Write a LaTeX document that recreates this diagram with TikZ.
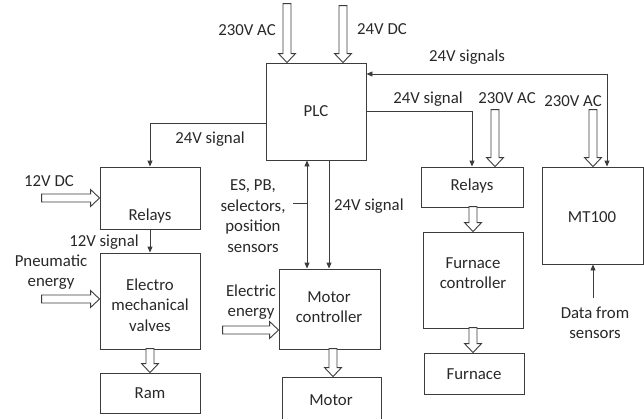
\documentclass[tikz,border=0pt]{standalone}
\usepackage{fontspec}
\setmainfont{Carlito}
\usetikzlibrary{calc,arrows.meta}
\definecolor{ln}{RGB}{60,60,60}
\definecolor{tx}{RGB}{40,40,40}
\tikzset{
  blk/.style={draw=ln, line width=0.9pt, minimum width=#1, inner sep=0pt},
  txt/.style={text=tx, align=center, inner sep=0pt, font=\fontsize{16.8}{20.5}\selectfont},
  sig/.style={draw=ln, line width=0.9pt, -{Triangle[length=6pt,width=5pt]}},
  sigb/.style={draw=ln, line width=0.9pt, {Triangle[length=6pt,width=5pt]}-{Triangle[length=6pt,width=5pt]}},
  hol/.style={draw=ln, line width=0.9pt, fill=white, line join=miter}
}
\newcommand{\hdown}[2]{\draw[hol] let \p1=#1 in (\x1-4pt,\y1+#2pt) -- (\x1-4pt,\y1+9pt) -- (\x1-8.5pt,\y1+9pt) -- (\x1,\y1) -- (\x1+8.5pt,\y1+9pt) -- (\x1+4pt,\y1+9pt) -- (\x1+4pt,\y1+#2pt) -- cycle;}
\newcommand{\hright}[2]{\draw[hol] let \p1=#1 in (\x1-#2pt,\y1+4pt) -- (\x1-9pt,\y1+4pt) -- (\x1-9pt,\y1+8.5pt) -- (\x1,\y1) -- (\x1-9pt,\y1-8.5pt) -- (\x1-9pt,\y1-4pt) -- (\x1-#2pt,\y1-4pt) -- cycle;}
\begin{document}
\begin{tikzpicture}[x=1pt,y=-1pt]
\useasboundingbox (0,0) rectangle (644,418);
% boxes
\node[blk=100pt, minimum height=97pt] (PLC) at (316,111.5) {};
\node[blk=100pt, minimum height=62pt] (relL) at (150,198) {};
\node[blk=100pt, minimum height=96pt] (EMV) at (150,301) {};
\node[blk=100pt, minimum height=40pt] (Ram) at (150,393) {};
\node[blk=101pt, minimum height=80pt] (MC) at (329.5,309) {};
\node[blk=99pt, minimum height=44pt] (Motor) at (331.5,399) {};
\node[blk=102pt, minimum height=40pt] (relR) at (472,187) {};
\node[blk=100pt, minimum height=96pt] (FC) at (473,280) {};
\node[blk=100pt, minimum height=41pt] (Furn) at (474,373.5) {};
\node[blk=101pt, minimum height=97pt] (MT) at (592.5,215.5) {};
% box texts
\node[txt] (tPLC) at (316,111) {PLC};
\node[txt] (tRelL) at (150,216) {Relays};
\node[txt] (tEMV) at (150,305) {Electro\\mechanical\\valves};
\node[txt] (tRam) at (150,393) {Ram};
\node[txt] (tMC) at (329,307) {Motor\\controller};
\node[txt] (tMotor) at (331,400) {Motor};
\node[txt] (tRelR) at (472,186) {Relays};
\node[txt] (tFC) at (473,273) {Furnace\\controller};
\node[txt] (tFurn) at (474,374) {Furnace};
\node[txt] (tMT) at (592,217) {MT100};
% labels
\node[txt] (l1) at (247,30) {230V AC};
\node[txt] (l2) at (382,29) {24V DC};
\node[txt] (l3) at (467,57) {24V signals};
\node[txt] (l4) at (428,99) {24V signal};
\node[txt] (l5) at (507,98) {230V AC};
\node[txt] (l6) at (573,101) {230V AC};
\node[txt] (l7) at (210,139) {24V signal};
\node[txt] (l8) at (49,181) {12V DC};
\node[txt] (l9) at (104,242) {12V signal};
\node[txt] (l10) at (51,272) {Pneumatic\\energy};
\node[txt] (l11) at (253,216) {ES, PB,\\selectors,\\position\\sensors};
\node[txt, anchor=west] (l12) at (334,206) {24V signal};
\node[txt] (l13) at (251,302) {Electric\\energy};
\node[txt] (l14) at (595,323) {Data from\\sensors};
% signal connectors
\draw[sig] (PLC.west |- 0,123) -| (relL.north);
\draw[sig] (PLC.east |- 0,111) -| (relR.north);
\draw[sigb] (PLC.east |- 0,74) -| (MT.north -| 607,0);
\draw[sigb] (PLC.south -| 307,0) -- (MC.north -| 307,0);
\draw[sig] (PLC.south -| 329,0) -- (MC.north -| 329,0);
\draw[sig] (relL.south) -- (EMV.north);
\coordinate (ds) at (593,298);
\draw[sig] (ds) -- (MT.south -| ds);
\coordinate (tk) at (293,203);
\draw[draw=ln, line width=0.9pt] (tk) -- (307,203);
% hollow arrows
\hdown{(PLC.north -| 287,0)}{59}
\hdown{(PLC.north -| 343,0)}{57}
\hdown{(relR.north -| 495,0)}{57}
\hdown{(MT.north -| 593,0)}{57}
\hdown{(FC.north -| 473,0)}{25}
\hdown{(Furn.north -| 473,0)}{25}
\hdown{(Motor.north -| 333,0)}{28}
\hdown{(Ram.north)}{24}
\hright{(relL.west |- 0,198)}{58}
\hright{(EMV.west |- 0,299)}{58}
\hright{(MC.west |- 0,330)}{56}
\end{tikzpicture}
\end{document}
